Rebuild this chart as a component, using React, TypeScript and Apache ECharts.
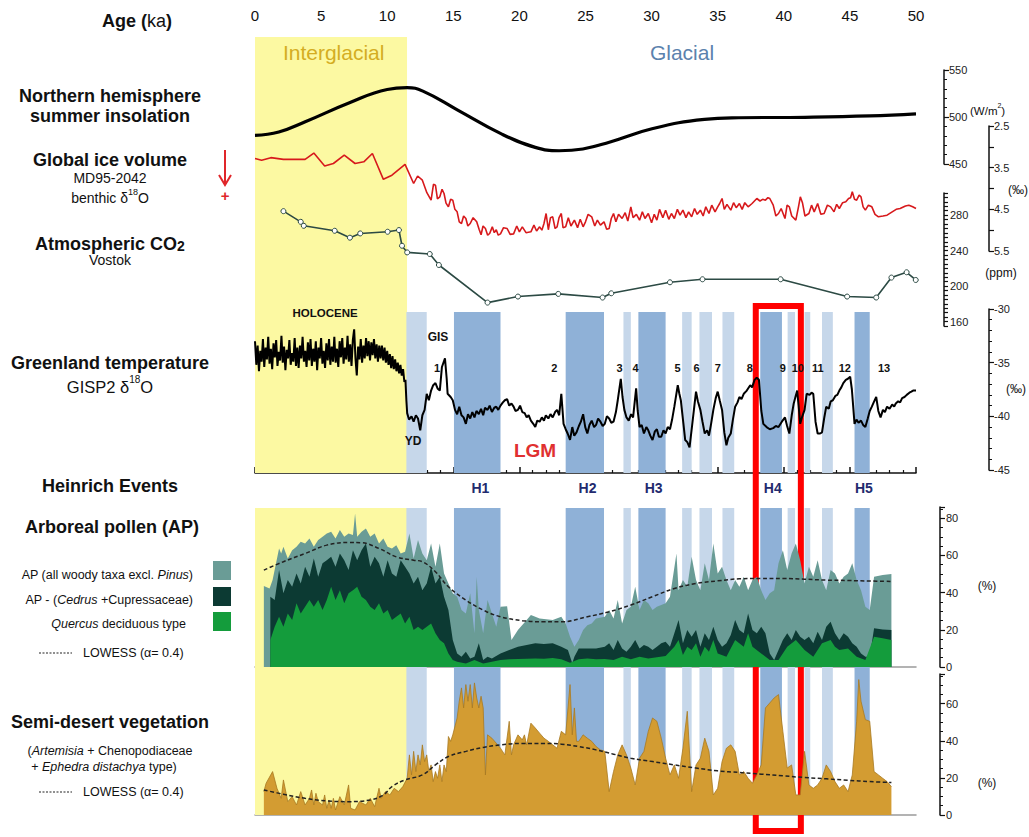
import React, { useEffect, useRef } from "react";
import * as echarts from "echarts";

const FF = '"Liberation Sans", Arial, Helvetica, sans-serif';

// ---------- DATA (age in ka, values in axis units) ----------
const interglacial: [number, number] = [0, 11.5];
const heinrichStadials: [number, number][] = [
  [15.05, 18.57], [23.5, 26.4], [29.0, 31.06], [38.22, 39.86], [45.35, 46.5],
];
const greenlandStadials: [number, number][] = [
  [11.45, 12.99], [27.87, 28.43], [32.31, 33.03], [33.62, 34.57], [35.36, 36.25],
  [40.29, 40.85], [41.57, 42.0], [42.89, 43.71],
];
const heinrichLabels: [string, number][] = [
  ["H1", 17.05], ["H2", 25.15], ["H3", 30.15], ["H4", 39.17], ["H5", 46.06],
];
const gisLabels: [string, number][] = [
  ["1", 13.77], ["2", 22.65], ["3", 27.58], ["4", 28.79], ["5", 31.97], ["6", 33.41],
  ["7", 35.0], ["8", 37.42], ["9", 39.92], ["10", 41.06], ["11", 42.58], ["12", 44.62], ["13", 47.58],
];
const highlightBox: [number, number] = [37.88, 41.29];

// Northern hemisphere summer insolation (W/m2)
const insolation: [number, number][] = [
  [0, 480.4], [1.8, 484], [3.8, 494.9], [7.1, 514.9], [10.0, 529.3], [11.5, 531.2], [12.7, 527.5],
  [15.3, 507.6], [18.6, 482.3], [21.2, 467.7], [23.0, 464.1], [24.8, 466], [26.8, 473.2],
  [30.1, 487.7], [34.0, 497.5], [36.6, 499.2], [41.6, 499.7], [46.5, 501.1], [50, 503.3],
];

// MD95-2042 benthic d18O (permil)
const iceVolume: [number, number][] = [
  [0, 3.28], [0.5, 3.32], [1.2, 3.26], [2.15, 3.3], [3.79, 3.3], [4.45, 3.15], [5.27, 3.46], [5.93, 3.4],
  [6.75, 3.2], [7.57, 3.4], [8.23, 3.36], [8.88, 3.16], [9.71, 3.78], [10.36, 3.68], [11.35, 3.42],
  [12.0, 3.88], [12.3, 3.7], [12.66, 3.8], [13.0, 4.1], [13.32, 4.28], [13.5, 3.9], [13.65, 3.92],
  [13.8, 4.25], [13.98, 4.2], [14.15, 4.02], [14.3, 4.12], [14.45, 4.35], [14.63, 4.44], [14.8, 4.26],
  [14.96, 4.28], [15.12, 4.5], [15.29, 4.56], [15.45, 4.8], [15.62, 4.84], [15.78, 4.66], [15.95, 4.72],
  [16.1, 4.9], [16.28, 4.84], [16.5, 4.7], [16.77, 4.8], [16.95, 4.98], [17.1, 5.11], [17.25, 4.9],
  [17.43, 4.96], [17.6, 5.12], [17.75, 5.08], [17.95, 4.92], [18.1, 5.06], [18.25, 4.99], [18.4, 5.12],
  [18.57, 5.09], [18.8, 4.94], [19.07, 4.96], [19.3, 5.1], [19.56, 5.09], [19.8, 4.9], [20.0, 5.04],
  [20.22, 4.92], [20.5, 5.06], [20.87, 5.04], [21.1, 4.88], [21.3, 5.02], [21.53, 4.92], [21.7, 5.0],
  [21.86, 4.84], [22.02, 4.6], [22.19, 4.99], [22.35, 4.7], [22.52, 4.68], [22.7, 4.96], [22.85, 4.92],
  [23.0, 4.7], [23.17, 4.6], [23.3, 4.94], [23.5, 4.92], [23.7, 4.7], [23.9, 4.9], [24.16, 4.76],
  [24.4, 4.94], [24.6, 4.74], [24.82, 4.92], [25.0, 4.8], [25.2, 4.62], [25.47, 4.68], [25.7, 4.9],
  [25.9, 4.76], [26.13, 4.88], [26.4, 4.8], [26.6, 4.98], [26.79, 4.96], [26.95, 4.72], [27.12, 4.6],
  [27.3, 4.8], [27.5, 4.62], [27.77, 4.72], [28.0, 4.58], [28.2, 4.78], [28.43, 4.44], [28.6, 4.7],
  [28.85, 4.62], [29.09, 4.76], [29.3, 4.56], [29.5, 4.72], [29.75, 4.6], [30.0, 4.82], [30.2, 4.62],
  [30.4, 4.76], [30.6, 4.5], [30.85, 4.7], [31.06, 4.52], [31.3, 4.74], [31.5, 4.6], [31.72, 4.72],
  [31.95, 4.5], [32.15, 4.64], [32.37, 4.52], [32.6, 4.7], [32.8, 4.56], [33.03, 4.68], [33.25, 4.48],
  [33.45, 4.62], [33.69, 4.52], [33.9, 4.66], [34.1, 4.44], [34.34, 4.6], [34.55, 4.4], [34.8, 4.56],
  [35.0, 4.44], [35.15, 4.36], [35.33, 4.24], [35.5, 4.5], [35.7, 4.38], [35.99, 4.52], [36.2, 4.34],
  [36.4, 4.46], [36.64, 4.36], [36.85, 4.5], [37.05, 4.34], [37.3, 4.44], [37.6, 4.36], [37.96, 4.24],
  [38.2, 4.3], [38.4, 4.26], [38.61, 4.28], [38.8, 4.22], [38.94, 4.24], [39.2, 4.4], [39.4, 4.66],
  [39.6, 4.6], [39.8, 4.48], [40.09, 4.72], [40.25, 4.4], [40.42, 4.44], [40.6, 4.66], [40.91, 4.76],
  [41.1, 4.46], [41.25, 4.2], [41.41, 4.34], [41.6, 4.66], [41.9, 4.6], [42.1, 4.4], [42.3, 4.56],
  [42.56, 4.36], [42.8, 4.62], [43.05, 4.6], [43.3, 4.4], [43.54, 4.44], [43.8, 4.56], [44.0, 4.38],
  [44.2, 4.48], [44.45, 4.34], [44.69, 4.32], [44.9, 4.24], [45.05, 4.22], [45.18, 4.08], [45.35, 4.26],
  [45.51, 4.28], [45.7, 4.16], [45.84, 4.2], [46.0, 4.44], [46.17, 4.52], [46.4, 4.4], [46.66, 4.44],
  [46.9, 4.62], [47.16, 4.68], [47.5, 4.66], [47.81, 4.64], [48.2, 4.56], [48.5, 4.5], [48.8, 4.48],
  [49.2, 4.42], [49.46, 4.4], [49.75, 4.44], [50, 4.48],
];

// Vostok CO2 (ppm)
const co2: [number, number][] = [
  [2.15, 284.5], [3.46, 272.5], [3.69, 268.0], [6.03, 262.4], [7.18, 254.6], [7.96, 259.4],
  [10.03, 261.3], [10.89, 263.2], [11.12, 245.5], [11.51, 238.0], [13.22, 236.2], [13.91, 223.8],
  [17.59, 181.4], [19.89, 188.2], [22.94, 191.2], [26.29, 187.1], [26.95, 191.9], [31.39, 204.3],
  [33.85, 207.7], [39.76, 207.7], [44.79, 188.2], [46.99, 187.1], [48.14, 209.6], [49.29, 215.6],
  [49.98, 206.9],
];

// GISP2 d18O (permil)
const gisp2: [number, number][] = [
  [0, -33.0], [0.1, -35.2], [0.2, -33.4], [0.3, -35.8], [0.4, -33.9], [0.5, -34.9], [0.6, -32.8],
  [0.7, -35.4], [0.8, -33.6], [0.9, -34.7], [1.0, -32.6], [1.1, -35.1], [1.2, -33.7], [1.3, -35.6],
  [1.4, -33.2], [1.5, -34.5], [1.6, -32.9], [1.7, -35.3], [1.8, -34.0], [1.9, -34.8], [2.0, -32.5],
  [2.1, -35.0], [2.2, -33.5], [2.3, -35.7], [2.4, -33.8], [2.5, -34.6], [2.6, -32.9], [2.7, -35.2],
  [2.8, -34.1], [2.9, -34.9], [3.0, -32.7], [3.1, -35.3], [3.2, -33.6], [3.3, -35.5], [3.4, -33.4],
  [3.5, -34.6], [3.6, -32.6], [3.7, -34.9], [3.8, -33.9], [3.9, -35.4], [4.0, -33.1], [4.1, -34.8],
  [4.2, -32.8], [4.3, -35.3], [4.4, -33.7], [4.5, -34.9], [4.6, -33.0], [4.7, -35.7], [4.8, -33.6],
  [4.9, -34.6], [5.0, -32.7], [5.1, -35.1], [5.2, -33.9], [5.3, -35.5], [5.4, -33.2], [5.5, -34.8],
  [5.6, -32.8], [5.7, -35.2], [5.8, -33.5], [5.9, -34.9], [6.0, -32.6], [6.1, -35.0], [6.2, -33.7],
  [6.3, -35.4], [6.4, -33.0], [6.5, -34.5], [6.6, -32.7], [6.7, -35.1], [6.8, -33.6], [6.9, -34.7],
  [7.0, -32.5], [7.1, -34.9], [7.2, -33.3], [7.3, -35.3], [7.4, -32.9], [7.5, -31.9], [7.6, -34.6],
  [7.7, -36.2], [7.8, -33.5], [7.9, -34.7], [8.0, -32.8], [8.1, -35.0], [8.2, -33.4], [8.3, -34.6],
  [8.4, -32.7], [8.5, -34.4], [8.6, -33.0], [8.7, -34.8], [8.8, -33.1], [8.9, -34.3], [9.0, -32.8],
  [9.1, -34.6], [9.2, -33.3], [9.3, -34.9], [9.4, -33.4], [9.5, -34.6], [9.6, -33.4], [9.7, -34.8],
  [9.8, -33.6], [9.9, -35.0], [10.0, -33.9], [10.1, -35.2], [10.2, -34.2], [10.3, -35.5], [10.4, -34.4],
  [10.5, -35.6], [10.6, -34.7], [10.7, -35.8], [10.8, -35.0], [10.9, -36.0], [11.0, -35.2], [11.1, -36.2],
  [11.2, -35.6], [11.3, -36.8], [11.38, -36.6], [11.45, -38.5], [11.51, -39.7], [11.65, -40.3],
  [11.84, -40.0], [12.0, -40.5], [12.17, -39.9], [12.33, -40.2], [12.5, -41.3], [12.66, -39.9],
  [12.83, -39.4], [12.99, -37.9], [13.15, -38.5], [13.32, -37.6], [13.48, -37.1], [13.65, -36.9],
  [13.81, -37.4], [13.98, -37.6], [14.14, -35.4], [14.37, -34.6], [14.5, -36.5], [14.57, -37.9],
  [14.8, -38.2], [14.96, -38.5], [15.13, -39.4], [15.29, -39.8], [15.45, -39.1], [15.62, -39.9],
  [15.78, -40.1], [15.95, -40.7], [16.11, -39.8], [16.28, -40.2], [16.44, -39.6], [16.6, -40.1],
  [16.75, -39.5], [16.93, -39.8], [17.1, -39.3], [17.26, -39.9], [17.4, -39.2], [17.59, -39.4],
  [17.75, -39.0], [17.92, -39.6], [18.1, -39.2], [18.25, -39.1], [18.4, -39.4], [18.57, -39.0],
  [18.75, -38.7], [18.9, -38.5], [19.07, -38.4], [19.23, -39.0], [19.4, -38.8], [19.56, -39.1],
  [19.7, -39.5], [19.89, -39.4], [20.05, -39.0], [20.22, -39.6], [20.4, -39.7], [20.55, -40.1],
  [20.7, -39.9], [20.87, -40.4], [21.05, -40.7], [21.2, -41.0], [21.35, -40.4], [21.53, -40.5],
  [21.7, -40.1], [21.86, -40.4], [22.0, -39.9], [22.19, -40.2], [22.35, -39.8], [22.52, -40.1],
  [22.7, -39.6], [22.85, -39.4], [23.01, -39.9], [23.17, -37.9], [23.34, -40.7], [23.5, -41.2],
  [23.65, -41.6], [23.83, -42.2], [24.0, -41.0], [24.15, -41.8], [24.32, -41.5], [24.5, -40.9],
  [24.65, -40.5], [24.82, -39.8], [24.98, -41.0], [25.14, -41.6], [25.3, -40.8], [25.47, -40.4],
  [25.65, -41.0], [25.8, -40.8], [25.95, -40.2], [26.13, -40.5], [26.3, -40.9], [26.46, -40.7],
  [26.62, -40.0], [26.79, -40.2], [26.95, -40.6], [27.12, -40.5], [27.3, -39.6], [27.44, -38.5],
  [27.67, -36.5], [27.8, -38.2], [27.94, -39.4], [28.1, -40.1], [28.27, -40.4], [28.45, -39.8],
  [28.6, -40.1], [28.83, -37.4], [28.95, -39.5], [29.09, -41.0], [29.25, -40.8], [29.42, -41.6],
  [29.6, -41.0], [29.75, -41.3], [29.9, -41.8], [30.07, -42.2], [30.25, -41.4], [30.4, -41.2],
  [30.55, -41.9], [30.73, -41.9], [30.9, -41.3], [31.06, -41.6], [31.22, -41.0], [31.39, -41.2],
  [31.55, -40.3], [31.72, -39.1], [31.98, -37.1], [32.1, -37.9], [32.21, -38.5], [32.4, -40.6],
  [32.54, -42.2], [32.7, -42.4], [32.87, -42.9], [33.05, -41.0], [33.2, -39.4], [33.36, -37.7],
  [33.5, -38.6], [33.69, -39.4], [33.85, -40.5], [34.02, -41.6], [34.2, -41.3], [34.34, -41.8],
  [34.5, -40.7], [34.67, -39.4], [34.85, -38.3], [35.0, -37.7], [35.15, -38.5], [35.33, -39.4],
  [35.5, -41.5], [35.66, -42.7], [35.8, -42.0], [35.99, -41.6], [36.15, -40.3], [36.32, -39.1],
  [36.5, -38.7], [36.64, -38.2], [36.8, -38.4], [36.97, -37.9], [37.2, -37.6], [37.46, -37.1],
  [37.6, -37.3], [37.79, -36.6], [37.95, -36.4], [38.12, -36.6], [38.3, -39.5], [38.45, -40.7],
  [38.7, -41.0], [38.94, -41.2], [39.2, -41.1], [39.4, -40.9], [39.6, -41.0], [39.85, -40.5],
  [40.09, -40.1], [40.25, -40.9], [40.42, -41.6], [40.6, -39.9], [40.75, -38.8], [40.9, -38.1],
  [41.01, -37.6], [41.12, -39.0], [41.24, -40.7], [41.4, -40.0], [41.57, -39.4], [41.73, -37.9],
  [41.95, -38.0], [42.1, -37.8], [42.23, -37.9], [42.4, -40.5], [42.56, -41.6], [42.75, -41.6],
  [42.89, -41.5], [43.05, -40.2], [43.21, -39.1], [43.4, -39.3], [43.55, -38.6], [43.71, -38.5],
  [43.9, -38.1], [44.05, -38.0], [44.2, -37.6], [44.35, -37.3], [44.5, -36.9], [44.69, -36.6],
  [44.85, -36.5], [45.02, -36.3], [45.15, -37.5], [45.35, -40.7], [45.5, -40.3], [45.65, -40.6],
  [45.84, -40.4], [46.0, -40.8], [46.17, -41.0], [46.35, -40.2], [46.5, -39.5], [46.66, -39.1],
  [46.8, -38.7], [46.99, -38.2], [47.15, -39.5], [47.32, -40.1], [47.5, -39.4], [47.65, -39.6],
  [47.81, -39.1], [48.0, -39.3], [48.2, -38.9], [48.35, -39.1], [48.47, -38.8], [48.65, -38.6],
  [48.8, -38.7], [48.95, -38.3], [49.13, -38.2], [49.3, -38.0], [49.5, -37.8], [49.65, -37.7],
  [49.78, -37.6], [50, -37.6],
];

// Arboreal pollen (%)
const apTotal: [number, number][] = [
  [0.67, 43.5], [1.1, 42.2], [1.33, 46.7], [1.82, 63.7], [1.98, 61.0], [2.15, 64.6], [2.48, 58.3],
  [2.81, 62.8], [3.14, 64.6], [3.46, 67.3], [3.79, 66.4], [4.12, 69.1], [4.45, 64.6], [4.78, 68.2],
  [5.11, 70.0], [5.43, 71.8], [5.76, 72.7], [6.09, 69.1], [6.42, 73.6], [6.75, 70.0], [7.08, 71.8],
  [7.41, 70.9], [7.57, 82.5], [7.73, 70.0], [8.06, 72.7], [8.39, 74.4], [8.72, 70.0], [9.05, 71.8],
  [9.38, 66.4], [9.71, 69.1], [10.03, 64.6], [10.36, 63.7], [10.69, 65.5], [11.02, 61.0], [11.35, 61.9],
  [11.68, 71.8], [12.0, 58.3], [12.33, 68.2], [12.66, 61.0], [12.99, 57.4], [13.32, 66.4], [13.65, 53.9],
  [13.98, 66.4], [14.3, 50.3], [14.63, 44.9], [14.96, 39.6], [15.29, 37.8], [15.62, 30.6], [15.95, 28.8],
  [16.28, 39.6], [16.6, 18.1], [16.77, 48.5], [16.93, 30.6], [17.26, 18.1], [17.59, 36.0], [17.92, 28.8],
  [18.25, 21.7], [18.57, 32.4], [19.07, 32.7], [19.4, 14.5], [19.89, 19.9], [20.55, 25.2], [20.87, 27.9],
  [21.53, 26.1], [22.52, 25.2], [23.17, 27.0], [23.5, 23.4], [23.83, 16.3], [24.16, 10.9], [24.49, 14.5],
  [24.82, 19.9], [25.14, 22.5], [25.47, 23.4], [25.8, 26.1], [26.46, 27.0], [26.79, 30.6], [27.12, 26.1],
  [27.44, 36.0], [27.77, 23.4], [28.1, 30.6], [28.43, 32.4], [28.76, 43.1], [29.09, 30.6], [29.42, 36.0],
  [29.75, 34.2], [30.07, 30.6], [30.4, 32.4], [31.06, 34.2], [31.39, 37.8], [31.88, 61.0], [32.04, 41.3],
  [32.37, 46.7], [32.7, 43.1], [33.03, 59.2], [33.36, 46.7], [33.69, 41.3], [34.02, 55.7], [34.34, 46.7],
  [34.67, 66.4], [35.0, 50.3], [35.33, 53.9], [35.66, 46.7], [35.99, 41.3], [36.32, 46.7], [36.64, 43.1],
  [36.97, 48.5], [37.3, 41.3], [37.63, 46.7], [37.96, 48.5], [38.29, 41.3], [38.61, 36.0], [38.94, 39.6],
  [39.27, 41.3], [39.6, 55.7], [39.93, 62.8], [40.26, 52.1], [40.59, 61.0], [40.91, 66.4], [41.24, 57.4],
  [41.57, 44.9], [41.9, 53.9], [42.23, 48.5], [42.56, 57.4], [42.89, 46.7], [43.21, 41.3], [43.54, 52.1],
  [43.87, 50.3], [44.2, 44.9], [44.53, 48.5], [44.86, 50.3], [45.18, 55.7], [45.51, 46.7], [45.84, 41.3],
  [46.17, 32.4], [46.5, 30.6], [46.83, 48.5], [47.48, 49.4], [48.14, 50.0],
];
const apNoCedrus: [number, number][] = [
  [1.16, 37.8], [1.49, 36.0], [1.82, 52.1], [2.15, 39.6], [2.48, 46.7], [2.81, 43.1], [3.14, 50.3],
  [3.46, 44.9], [3.79, 53.9], [4.12, 48.5], [4.45, 58.3], [4.78, 48.5], [5.11, 55.7], [5.43, 57.4],
  [5.76, 59.2], [6.09, 53.9], [6.42, 61.0], [6.75, 57.4], [7.08, 52.1], [7.41, 62.8], [7.73, 57.4],
  [8.06, 62.8], [8.39, 66.4], [8.72, 53.9], [9.05, 59.2], [9.38, 55.7], [9.71, 48.5], [10.03, 57.4],
  [10.36, 50.3], [10.69, 48.5], [11.02, 57.4], [11.35, 53.9], [11.68, 50.3], [12.0, 44.9], [12.33, 48.5],
  [12.66, 41.3], [12.99, 44.9], [13.32, 53.9], [13.65, 44.9], [13.98, 48.5], [14.3, 37.8], [14.63, 30.6],
  [14.96, 14.5], [15.29, 7.3], [15.62, 5.5], [15.95, 8.2], [16.28, 4.6], [16.6, 5.5], [16.93, 12.7],
  [17.26, 3.7], [17.59, 5.5], [17.92, 4.6], [18.57, 7.3], [19.23, 9.1], [19.89, 10.9], [20.55, 11.8],
  [21.2, 12.7], [21.86, 12.3], [22.52, 12.7], [23.17, 10.9], [23.67, 9.1], [24.0, 2.0], [24.16, 5.5],
  [24.49, 10.0], [25.14, 10.0], [25.8, 10.0], [26.46, 10.9], [26.79, 12.7], [27.12, 9.1], [27.44, 14.5],
  [27.77, 10.0], [28.1, 8.2], [28.43, 10.9], [28.76, 14.5], [29.09, 10.0], [29.42, 11.8], [29.75, 10.9],
  [30.07, 9.1], [30.4, 10.9], [30.73, 12.7], [31.06, 13.6], [31.39, 10.9], [31.72, 18.1], [32.04, 25.2],
  [32.37, 12.7], [32.7, 19.9], [33.03, 16.3], [33.36, 19.9], [33.69, 10.9], [34.02, 18.1], [34.34, 14.5],
  [34.67, 21.7], [35.0, 14.5], [35.33, 10.9], [35.66, 12.7], [35.99, 17.2], [36.32, 25.2], [36.64, 19.9],
  [36.97, 18.1], [37.3, 28.8], [37.63, 19.9], [37.96, 18.1], [38.29, 21.7], [38.61, 18.1], [38.94, 7.3],
  [39.27, 3.7], [39.6, 9.1], [39.93, 14.5], [40.26, 18.1], [40.59, 14.5], [40.91, 19.9], [41.24, 16.3],
  [41.57, 14.5], [41.9, 16.3], [42.23, 12.7], [42.56, 19.0], [42.89, 14.5], [43.21, 21.7], [43.54, 24.3],
  [43.87, 18.1], [44.2, 14.5], [44.53, 18.1], [44.86, 16.3], [45.18, 12.7], [45.51, 10.9], [45.84, 7.3],
  [46.17, 5.5], [46.5, 5.5], [46.83, 20.8], [47.48, 20.2], [48.14, 19.9],
];
const quercus: [number, number][] = [
  [1.16, 14.5], [1.49, 21.7], [1.82, 27.0], [2.15, 21.7], [2.48, 28.8], [2.81, 25.2], [3.14, 34.2],
  [3.46, 28.8], [3.79, 32.4], [4.12, 36.0], [4.45, 32.4], [4.78, 36.0], [5.11, 30.6], [5.43, 36.0],
  [5.76, 43.1], [6.09, 36.0], [6.42, 41.3], [6.75, 34.2], [7.08, 39.6], [7.41, 41.3], [7.73, 43.1],
  [8.06, 37.8], [8.39, 36.0], [8.72, 32.4], [9.05, 30.6], [9.38, 34.2], [9.71, 28.8], [10.03, 30.6],
  [10.36, 25.2], [10.69, 27.0], [11.02, 28.8], [11.35, 23.4], [11.68, 27.0], [12.0, 19.9], [12.33, 21.7],
  [12.66, 19.9], [12.99, 21.7], [13.32, 23.4], [13.65, 18.1], [13.98, 14.5], [14.3, 12.7], [14.63, 7.3],
  [14.96, 3.7], [15.29, 2.8], [15.95, 1.9], [16.6, 3.7], [17.26, 1.9], [17.92, 2.8], [18.57, 3.7],
  [19.23, 4.1], [19.89, 4.3], [20.55, 4.5], [21.2, 4.6], [21.86, 4.5], [22.52, 4.8], [23.17, 4.1],
  [23.83, 2.3], [24.49, 4.1], [25.14, 4.6], [25.8, 4.1], [26.46, 4.3], [27.12, 3.7], [27.77, 5.5],
  [28.43, 4.1], [29.09, 5.5], [29.75, 4.6], [30.4, 5.2], [31.06, 5.9], [31.72, 10.9], [32.04, 14.5],
  [32.37, 6.4], [32.7, 10.9], [33.03, 9.1], [33.36, 12.7], [33.69, 5.5], [34.02, 10.9], [34.34, 8.2],
  [34.67, 14.5], [35.0, 7.3], [35.66, 5.5], [36.32, 14.5], [36.97, 10.9], [37.3, 18.1], [37.63, 10.9],
  [38.29, 7.3], [38.94, 3.7], [39.6, 3.7], [40.26, 10.9], [40.91, 14.5], [41.57, 9.1], [42.23, 5.5],
  [42.89, 12.7], [43.54, 14.5], [43.87, 10.9], [44.2, 9.1], [44.86, 10.0], [45.51, 5.5], [46.17, 3.7],
  [46.83, 16.3], [47.48, 15.4], [48.14, 14.5],
];
const apLowess: [number, number][] = [
  [0.67, 52.1], [2.15, 56.6], [3.79, 61.0], [5.43, 65.5], [7.08, 66.9], [8.06, 66.8], [9.38, 63.7],
  [10.69, 59.2], [12.0, 57.4], [12.66, 56.6], [13.65, 51.2], [14.63, 43.1], [15.95, 36.0], [17.26, 30.6],
  [18.57, 27.0], [20.22, 24.9], [21.86, 24.3], [23.17, 24.3], [25.14, 27.0], [26.79, 29.7], [28.43, 33.3],
  [30.07, 37.8], [31.72, 42.2], [33.36, 44.9], [35.0, 46.3], [36.64, 47.4], [38.29, 47.6], [39.93, 47.6],
  [41.57, 47.2], [43.21, 46.7], [44.86, 46.5], [46.5, 46.2], [48.14, 46.0],
];

// Semi-desert vegetation (%)
const semiDesert: [number, number][] = [
  [0.67, 12.6], [0.84, 17.1], [1.33, 23.4], [1.66, 14.4], [1.98, 9.0], [2.15, 18.9], [2.48, 7.2],
  [2.81, 9.9], [3.14, 5.4], [3.46, 12.6], [3.79, 5.4], [4.12, 9.0], [4.28, 13.5], [4.45, 5.4],
  [4.61, 11.7], [4.78, 7.2], [5.11, 5.4], [5.27, 10.8], [5.43, 3.6], [5.6, 8.1], [5.76, 3.6], [5.93, 9.0],
  [6.09, 2.7], [6.42, 9.9], [6.75, 5.4], [7.08, 16.2], [7.24, 3.6], [7.57, 2.7], [7.9, 7.2], [8.39, 5.4],
  [8.72, 9.0], [9.05, 4.5], [9.38, 14.4], [9.54, 9.0], [9.87, 12.6], [10.2, 10.8], [10.53, 14.4],
  [10.85, 12.6], [11.18, 15.3], [11.51, 19.8], [11.68, 32.4], [11.84, 21.6], [12.0, 34.3], [12.17, 23.4],
  [12.33, 32.4], [12.5, 27.0], [12.66, 37.8], [12.83, 28.8], [12.99, 32.4], [13.15, 23.4], [13.32, 27.0],
  [13.48, 18.0], [13.65, 23.4], [13.81, 19.8], [13.98, 27.0], [14.14, 18.0], [14.3, 27.0], [14.47, 23.4],
  [14.63, 42.3], [14.8, 39.7], [14.96, 43.2], [15.29, 52.3], [15.45, 61.3], [15.62, 68.5], [15.78, 57.7],
  [15.95, 70.3], [16.11, 61.3], [16.28, 70.3], [16.44, 57.7], [16.6, 71.2], [16.77, 63.1], [16.93, 57.7],
  [17.1, 64.0], [17.26, 57.7], [17.43, 21.6], [17.59, 43.2], [17.92, 41.4], [18.25, 38.7], [18.57, 36.0],
  [18.9, 32.4], [19.23, 50.5], [19.4, 32.4], [19.56, 37.8], [19.89, 43.2], [20.22, 40.5], [20.38, 43.2],
  [20.55, 37.8], [20.87, 49.5], [21.2, 46.9], [21.53, 44.1], [21.86, 41.4], [22.19, 39.7], [22.52, 37.8],
  [22.85, 36.0], [23.17, 45.1], [23.5, 43.2], [23.83, 70.3], [24.0, 43.2], [24.16, 57.7], [24.32, 39.7],
  [24.49, 39.7], [24.82, 43.2], [25.14, 41.4], [25.47, 39.7], [25.8, 36.9], [26.13, 35.1], [26.46, 34.3],
  [26.79, 12.6], [27.12, 23.4], [27.44, 32.4], [27.77, 37.8], [28.1, 32.4], [28.43, 25.3], [28.76, 16.2],
  [29.09, 30.6], [29.42, 34.3], [29.75, 45.1], [30.07, 52.3], [30.4, 50.5], [30.73, 41.4], [31.06, 30.6],
  [31.39, 21.6], [31.72, 27.0], [32.04, 19.8], [32.37, 36.0], [32.7, 55.9], [33.03, 12.6], [33.36, 27.0],
  [33.69, 30.6], [34.02, 41.4], [34.34, 34.3], [34.67, 10.8], [35.0, 14.4], [35.33, 28.8], [35.66, 36.0],
  [35.99, 37.8], [36.32, 34.3], [36.64, 21.6], [36.97, 23.4], [37.3, 19.8], [37.63, 17.1], [37.96, 21.6],
  [38.29, 27.0], [38.61, 57.7], [38.94, 60.4], [39.27, 63.1], [39.6, 64.9], [39.93, 45.1], [40.26, 25.3],
  [40.59, 27.0], [40.91, 10.8], [41.24, 10.8], [41.57, 34.3], [41.9, 16.2], [42.23, 14.4], [42.56, 16.2],
  [42.89, 19.8], [43.21, 27.0], [43.54, 23.4], [43.87, 18.0], [44.2, 14.4], [44.53, 16.2], [44.86, 12.6],
  [45.18, 21.6], [45.51, 50.5], [45.67, 73.0], [45.84, 61.3], [46.17, 51.4], [46.5, 50.5], [46.83, 23.4],
  [47.16, 21.6], [47.48, 19.8], [47.81, 18.0], [48.14, 15.3],
];
const semiLowess: [number, number][] = [
  [0.67, 13.5], [2.15, 11.2], [3.79, 9.0], [5.43, 7.6], [7.08, 7.2], [8.72, 8.1], [9.71, 10.8],
  [10.36, 15.3], [11.35, 18.9], [12.66, 21.6], [13.65, 27.0], [14.63, 31.5], [15.95, 34.3], [17.26, 36.4],
  [18.57, 37.8], [20.22, 38.6], [21.86, 38.6], [23.17, 38.2], [24.49, 36.9], [25.8, 35.1], [27.12, 32.8],
  [28.43, 30.6], [30.07, 28.8], [31.72, 27.0], [33.36, 25.3], [35.0, 23.8], [36.64, 22.9], [38.29, 22.0],
  [39.93, 21.1], [41.57, 20.2], [43.21, 19.5], [44.86, 18.7], [46.5, 18.0], [48.14, 17.5],
];

// ---------- STYLE ----------
const YELLOW = "#fcf9a2";
const BAND_DARK = "#8fb1d7";
const BAND_LIGHT = "#c6d7ea";
const C_TEAL = "#6a9c96";
const C_DARK = "#0c3a33";
const C_GREEN = "#149c3c";
const C_SEMI = "#d39c32";
const C_RED = "#d7191c";
const C_CO2 = "#2c4a44";

const GRIDS = [
  { top: 30, height: 443 }, // 0 age axis
  { top: 37, height: 436 }, // 1 interglacial (upper)
  { top: 312, height: 161 }, // 2 stadial bands (upper)
  { top: 70, height: 94 }, // 3 insolation
  { top: 126, height: 125 }, // 4 ice volume
  { top: 193, height: 133 }, // 5 CO2
  { top: 309, height: 161 }, // 6 GISP2
  { top: 508, height: 307 }, // 7 background (pollen)
  { top: 507, height: 160 }, // 8 AP
  { top: 674, height: 141 }, // 9 semi-desert
  { top: 306, height: 525 }, // 10 highlight box
];

function rightAxis(gridIndex: number, offset: number, extra: any) {
  return {
    type: "value",
    gridIndex,
    position: "right",
    offset,
    axisLine: { show: true, onZero: false, lineStyle: { color: "#111", width: 1.5 } },
    axisTick: { show: true, length: 5, lineStyle: { color: "#111", width: 1.2 } },
    minorTick: { show: false },
    splitLine: { show: false },
    axisLabel: { fontSize: 11, color: "#222", margin: 5, fontFamily: FF },
    ...extra,
  };
}

function bandArea(list: [number, number][], color: string) {
  return list.map(([a, b]) => [{ xAxis: a, itemStyle: { color } }, { xAxis: b }]);
}

function bgSeries(gridIndex: number, areas: any[]) {
  return {
    type: "line",
    xAxisIndex: gridIndex,
    yAxisIndex: gridIndex,
    data: [],
    silent: true,
    z: 1,
    markArea: { silent: true, label: { show: false }, data: areas },
  };
}

function buildOption() {
  const xAxes = GRIDS.map((_, i) => {
    const base: any = {
      type: "value",
      gridIndex: i,
      min: 0,
      max: 50,
      show: false,
      splitLine: { show: false },
    };
    if (i === 0) {
      Object.assign(base, {
        show: true,
        position: "top",
        interval: 5,
        axisLine: { show: true, lineStyle: { color: "#111", width: 1.5 } },
        axisTick: { show: true, length: 6, lineStyle: { color: "#111", width: 1.5 } },
        minorTick: { show: true, splitNumber: 5, length: 3, lineStyle: { color: "#111", width: 1.2 } },
        axisLabel: { fontSize: 15, color: "#111", margin: 7, fontFamily: FF },
      });
    }
    if (i === 8 || i === 9) {
      Object.assign(base, {
        show: true,
        axisLine: { show: true, onZero: false, lineStyle: { color: "#9a9a9a", width: 1.5 } },
        axisTick: { show: false },
        axisLabel: { show: false },
      });
    }
    return base;
  });

  const yAxes: any[] = GRIDS.map((_, i) => ({ type: "value", gridIndex: i, min: 0, max: 1, show: false }));
  yAxes[3] = rightAxis(3, 28, {
    min: 450, max: 550, interval: 50,
    minorTick: { show: true, splitNumber: 5, length: 3, lineStyle: { color: "#111" } },
  });
  yAxes[4] = rightAxis(4, 73, {
    min: 2.5, max: 5.5, interval: 0.5, inverse: true,
    axisLabel: {
      fontSize: 11, color: "#222", margin: 5, fontFamily: FF,
      formatter: (v: number) => (Math.abs(((v * 2) % 2) - 1) < 1e-6 ? v.toFixed(1) : ""),
    },
  });
  yAxes[5] = rightAxis(5, 28, {
    min: 155, max: 305, interval: 5,
    axisTick: { show: true, length: 4, lineStyle: { color: "#111", width: 1.2 } },
    axisLabel: {
      fontSize: 11, color: "#222", margin: 6, fontFamily: FF,
      formatter: (v: number) => ([160, 200, 240, 280].indexOf(Math.round(v)) >= 0 ? String(Math.round(v)) : ""),
    },
  });
  yAxes[6] = rightAxis(6, 73, {
    min: -45, max: -30, interval: 5,
    minorTick: { show: true, splitNumber: 5, length: 3, lineStyle: { color: "#111" } },
  });
  yAxes[8] = rightAxis(8, 24, {
    min: 0, max: 86, interval: 20,
    minorTick: { show: true, splitNumber: 4, length: 3, lineStyle: { color: "#111" } },
    axisLabel: {
      fontSize: 11, color: "#222", margin: 6, fontFamily: FF,
      formatter: (v: number) => (Math.round(v) % 20 === 0 ? String(Math.round(v)) : ""),
    },
  });
  yAxes[9] = rightAxis(9, 24, {
    min: 0, max: 76, interval: 20,
    minorTick: { show: true, splitNumber: 4, length: 3, lineStyle: { color: "#111" } },
    axisLabel: {
      fontSize: 11, color: "#222", margin: 6, fontFamily: FF,
      formatter: (v: number) => (Math.round(v) % 20 === 0 ? String(Math.round(v)) : ""),
    },
  });

  const yellowArea = [[{ xAxis: interglacial[0], itemStyle: { color: YELLOW } }, { xAxis: interglacial[1] }]];
  const bands = [...bandArea(greenlandStadials, BAND_LIGHT), ...bandArea(heinrichStadials, BAND_DARK)];

  const area = (gi: number, data: any, color: string, z: number) => ({
    type: "line",
    xAxisIndex: gi,
    yAxisIndex: gi,
    data,
    showSymbol: false,
    silent: true,
    z,
    lineStyle: { width: 0 },
    areaStyle: { color, opacity: 1 },
  });
  const dashed = (gi: number, data: any) => ({
    type: "line",
    xAxisIndex: gi,
    yAxisIndex: gi,
    data,
    smooth: 0.4,
    showSymbol: false,
    silent: true,
    z: 8,
    lineStyle: { color: "#222", width: 1.5, type: [4, 2.5] },
  });

  const series: any[] = [
    bgSeries(1, yellowArea),
    bgSeries(2, bands),
    bgSeries(7, [...yellowArea, ...bands]),
    {
      type: "line", xAxisIndex: 3, yAxisIndex: 3, data: insolation, smooth: 0.45, showSymbol: false,
      silent: true, z: 5, lineStyle: { color: "#000", width: 3.2 },
    },
    {
      type: "line", xAxisIndex: 4, yAxisIndex: 4, data: iceVolume, showSymbol: false,
      silent: true, z: 5, lineStyle: { color: C_RED, width: 1.6 },
    },
    {
      type: "line", xAxisIndex: 5, yAxisIndex: 5, data: co2, showSymbol: true, symbol: "circle",
      symbolSize: 5, silent: true, z: 5,
      lineStyle: { color: C_CO2, width: 1.6 },
      itemStyle: { color: "#ffffff", borderColor: C_CO2, borderWidth: 1 },
    },
    {
      type: "line", xAxisIndex: 6, yAxisIndex: 6, data: gisp2, showSymbol: false,
      silent: true, z: 5, lineStyle: { color: "#000", width: 2 },
    },
    area(8, apTotal, C_TEAL, 3),
    area(8, apNoCedrus, C_DARK, 4),
    area(8, quercus, C_GREEN, 5),
    dashed(8, apLowess),
    {
      ...area(9, semiDesert, C_SEMI, 3),
      lineStyle: { width: 0.8, color: "#a87a22" },
    },
    dashed(9, semiLowess),
    {
      type: "line",
      xAxisIndex: 10,
      yAxisIndex: 10,
      data: [],
      silent: true,
      z: 20,
      markArea: {
        silent: true,
        label: { show: false },
        itemStyle: { color: "rgba(0,0,0,0)", borderColor: "#ff0000", borderWidth: 6 },
        data: [[{ xAxis: highlightBox[0] }, { xAxis: highlightBox[1] }]],
      },
    },
  ];

  return {
    animation: false,
    backgroundColor: "#ffffff",
    textStyle: { fontFamily: FF },
    grid: GRIDS.map((g) => ({ ...g, left: 255, width: 661, containLabel: false })),
    xAxis: xAxes,
    yAxis: yAxes,
    series,
  };
}

function txt(x: number, y: number, text: string, size: number, o: any = {}) {
  const align = o.align || "center";
  return {
    type: "text",
    x,
    y,
    silent: true,
    z: 50,
    style: {
      text,
      fontSize: size,
      fontFamily: FF,
      fontWeight: o.bold ? "bold" : "normal",
      fontStyle: o.italic ? "italic" : "normal",
      fill: o.color || "#111",
      textAlign: align,
      align,
      textVerticalAlign: "middle",
      verticalAlign: "middle",
      rich: o.rich,
    },
  };
}

function richSet(size: number, bold: boolean) {
  const fw = bold ? "bold" : "normal";
  const lh = Math.round(size * 1.3);
  return {
    n: { fontSize: size, fontFamily: FF, fontWeight: fw, lineHeight: lh, verticalAlign: "bottom", fill: "#111" },
    nb: { fontSize: size, fontFamily: FF, fontWeight: "bold", lineHeight: lh, verticalAlign: "bottom", fill: "#111" },
    nr: { fontSize: size, fontFamily: FF, fontWeight: "normal", lineHeight: lh, verticalAlign: "bottom", fill: "#111" },
    i: { fontSize: size, fontFamily: FF, fontWeight: fw, fontStyle: "italic", lineHeight: lh, verticalAlign: "bottom", fill: "#111" },
    sup: { fontSize: Math.round(size * 0.62), fontFamily: FF, fontWeight: fw, lineHeight: Math.round(size * 0.7), verticalAlign: "top", fill: "#111" },
    sub: { fontSize: Math.round(size * 0.8), fontFamily: FF, fontWeight: fw, lineHeight: Math.round(size * 0.7), verticalAlign: "bottom", fill: "#111" },
  };
}

export default function App() {
  const ref = useRef<HTMLDivElement>(null);
  useEffect(() => {
    document.body.style.margin = "0";
    const chart = echarts.init(ref.current as HTMLDivElement, undefined, { renderer: "svg" });
    chart.setOption(buildOption());
    const ax = (age: number) => chart.convertToPixel({ xAxisIndex: 0 }, age) as number;

    const g: any[] = [];
    // left titles
    g.push(txt(137, 18, "{nb|Age (}{nr|ka}{nb|)}", 18, { rich: richSet(18, true) }));
    g.push(txt(110, 96, "Northern hemisphere", 18, { bold: true }));
    g.push(txt(110, 116, "summer insolation", 18, { bold: true }));
    g.push(txt(110, 160, "Global ice volume", 18, { bold: true }));
    g.push(txt(110, 178, "MD95-2042", 14));
    g.push(txt(110, 196, "{n|benthic δ}{sup|18}{n|O}", 14, { rich: richSet(14, false) }));
    g.push(txt(110, 241, "{n|Atmospheric CO}{sub|2}", 18, { rich: richSet(18, true) }));
    g.push(txt(110, 260, "Vostok", 14));
    g.push(txt(110, 363, "Greenland temperature", 18, { bold: true }));
    g.push(txt(110, 385, "{n|GISP2 δ}{sup|18}{n|O}", 16.5, { rich: richSet(16.5, false) }));
    g.push(txt(110, 486, "Heinrich Events", 18, { bold: true }));
    g.push(txt(112, 527, "Arboreal pollen (AP)", 18, { bold: true }));
    const r12 = richSet(12.5, false);
    g.push(txt(193, 573, "{n|AP (all woody taxa excl. }{i|Pinus}{n|)}", 12.5, { align: "right", rich: r12 }));
    g.push(txt(193, 598, "{n|AP - (}{i|Cedrus}{n| +Cupressaceae)}", 12.5, { align: "right", rich: r12 }));
    g.push(txt(186, 622, "{i|Quercus}{n| deciduous type}", 12.5, { align: "right", rich: r12 }));
    g.push({ type: "rect", shape: { x: 213, y: 561, width: 18, height: 19 }, style: { fill: C_TEAL }, silent: true, z: 50 });
    g.push({ type: "rect", shape: { x: 213, y: 587, width: 18, height: 19 }, style: { fill: C_DARK }, silent: true, z: 50 });
    g.push({ type: "rect", shape: { x: 213, y: 612, width: 18, height: 19 }, style: { fill: C_GREEN }, silent: true, z: 50 });
    [653, 792].forEach((yy) => {
      g.push({ type: "line", shape: { x1: 39, y1: yy, x2: 72, y2: yy }, style: { stroke: "#222", lineWidth: 1.2, lineDash: [2, 1.5] }, silent: true, z: 50 });
      g.push(txt(83, yy, "LOWESS (α= 0.4)", 12.5, { align: "left" }));
    });
    g.push(txt(110, 722, "Semi-desert vegetation", 18, { bold: true }));
    g.push(txt(110, 749, "{n|(}{i|Artemisia}{n| + Chenopodiaceae}", 12.5, { rich: r12 }));
    g.push(txt(104, 765, "{n|+ }{i|Ephedra distachya}{n| type)}", 12.5, { rich: r12 }));

    // red arrow
    g.push({ type: "line", shape: { x1: 225, y1: 150, x2: 225, y2: 184 }, style: { stroke: "#e0262a", lineWidth: 2 }, silent: true, z: 50 });
    g.push({ type: "polyline", shape: { points: [[219, 175], [225, 185], [231, 175]] }, style: { stroke: "#e0262a", lineWidth: 2, fill: "none" }, silent: true, z: 50 });
    g.push(txt(225, 195, "+", 15, { bold: true, color: "#e0262a" }));

    // units
    g.push(txt(970, 109, "{n|(W/m}{sup|2}{n|)}", 11.5, { align: "left", rich: richSet(11.5, false) }));
    g.push(txt(1018, 190, "(‰)", 12));
    g.push(txt(1001, 273, "(ppm)", 12));
    g.push(txt(1016, 389, "(‰)", 12));
    g.push(txt(987, 586, "(%)", 12));
    g.push(txt(987, 783, "(%)", 12));

    // period labels
    g.push(txt(ax(5.95), 52, "Interglacial", 21, { color: "#d4ad22" }));
    g.push(txt(ax(32.3), 52, "Glacial", 21, { color: "#5b82ad" }));
    g.push(txt(ax(5.3), 313, "HOLOCENE", 11.5, { bold: true }));
    g.push(txt(ax(13.84), 337, "GIS", 12, { bold: true }));
    g.push(txt(ax(11.95), 441, "YD", 12, { bold: true }));
    g.push(txt(ax(21.18), 450, "LGM", 19, { bold: true, color: "#e03030" }));
    gisLabels.forEach(([s, a]) => g.push(txt(ax(a), 368, s, 11, { bold: true })));
    heinrichLabels.forEach(([s, a]) => g.push(txt(ax(a), 488, s, 14, { bold: true, color: "#222a6e" })));

    chart.setOption({ graphic: g });
    return () => chart.dispose();
  }, []);
  return <div ref={ref} style={{ width: 1029, height: 837 }} />;
}
